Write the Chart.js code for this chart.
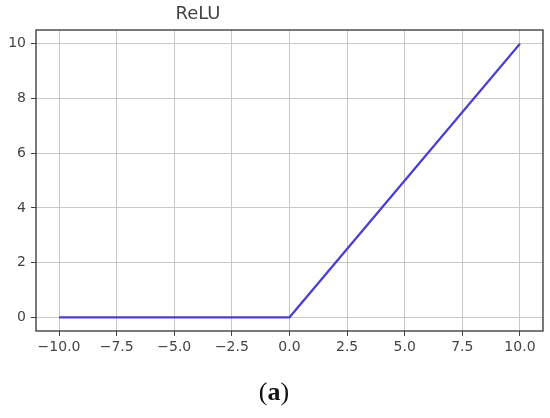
<!DOCTYPE html>
<html>
<head>
<meta charset="utf-8">
<script src="https://cdn.jsdelivr.net/npm/chart.js@4"></script>
<style>
  body { margin: 0; background: #fff; }
  #wrap { position: relative; width: 550px; height: 418px; }
  #title { position: absolute; left: 150px; width: 96px; top: 2px; text-align: center;
           font: 18px "DejaVu Sans"; color: #444; }
  #caption { position: absolute; left: 0; width: 548px; top: 377px; text-align: center;
             font: 26px "Liberation Serif"; color: #111; }
</style>
</head>
<body>
<div id="wrap">
  <canvas id="Chart" width="550" height="418"></canvas>
  <div id="title">ReLU</div>
  <div id="caption">(<b>a</b>)</div>
</div>
<script>
// relu curve
let xValues = [-10, 0, 10];
let yValues = [0, 0, 10];
let xTicks = [-10, -7.5, -5, -2.5, 0, 2.5, 5, 7.5, 10];
let yTicks = [0, 2, 4, 6, 8, 10];

let points = xValues.map(function (x, i) { return { x: x, y: yValues[i] } });

// matplotlib style box around the plot
let frame = {
    id: 'frame',
    afterDraw: function (chart) {
        let a = chart.chartArea;
        let c = chart.ctx;
        c.save();
        c.strokeStyle = '#333';
        c.lineWidth = 1.3;
        c.strokeRect(a.left, a.top, a.right - a.left, a.bottom - a.top);
        c.restore();
    }
};

let minus = function (v, digits) {
    let s = Number(v).toFixed(digits);
    return s.replace('-', '\u2212');
};

let ctx = document.getElementById('Chart').getContext('2d');
let myChart = new Chart(ctx, {
    type: 'scatter',
    data: {
        datasets: [{
            data: points,
            showLine: true,
            borderColor: '#4a3fcf',
            borderWidth: 2.2,
            pointRadius: 0,
            fill: false
        }]
    },
    options: {
        responsive: false,
        animation: false,
        layout: { padding: { left: 0, top: 30, right: 7, bottom: 0 } },
        plugins: { legend: { display: false }, tooltip: { enabled: false } },
        scales: {
            x: {
                min: -11, max: 11,
                afterBuildTicks: function (s) { s.ticks = xTicks.map(function (v) { return { value: v } }) },
                afterFit: function (s) { s.height = 87 },
                grid: { color: '#c8c8c8', lineWidth: 1, tickLength: 5, tickColor: '#444' },
                border: { display: false },
                ticks: {
                    color: '#444', padding: 3, maxRotation: 0, autoSkip: false,
                    font: { family: 'DejaVu Sans', size: 14 },
                    callback: function (v) { return minus(v, 1) }
                }
            },
            y: {
                min: -0.5, max: 10.5,
                afterBuildTicks: function (s) { s.ticks = yTicks.map(function (v) { return { value: v } }) },
                afterFit: function (s) { s.width = 36 },
                grid: { color: '#c8c8c8', lineWidth: 1, tickLength: 5, tickColor: '#444' },
                border: { display: false },
                ticks: {
                    color: '#444', padding: 5, autoSkip: false,
                    font: { family: 'DejaVu Sans', size: 14 },
                    callback: function (v) { return minus(v, 0) }
                }
            }
        }
    },
    plugins: [frame]
});
</script>
</body>
</html>
